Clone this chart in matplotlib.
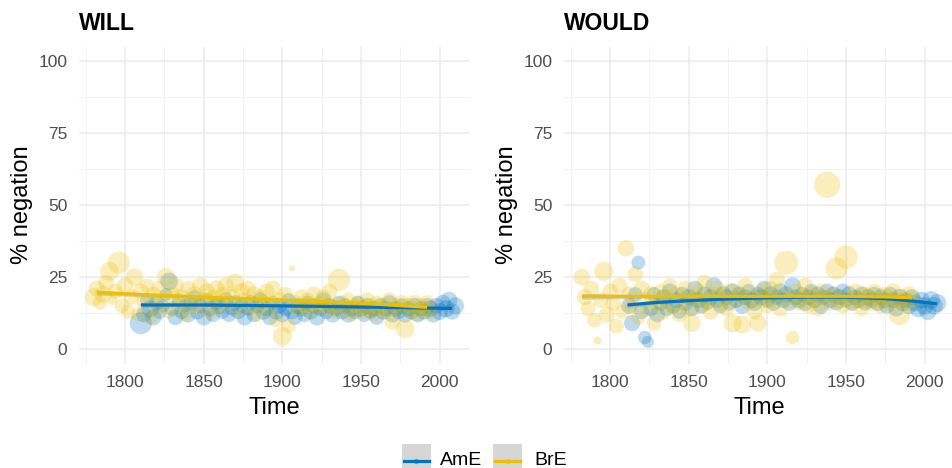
import numpy as np
import matplotlib
matplotlib.use("Agg")
import matplotlib.pyplot as plt
from matplotlib.patches import Rectangle
from matplotlib.lines import Line2D

plt.rcParams['font.family'] = ['Liberation Sans', 'DejaVu Sans']

# colours (jco palette)
BLUE = "#0073C2"
YELLOW = "#EFC000"

# ---------------- data: WILL ----------------
will_ame_year = [1810, 1812, 1814, 1816, 1818, 1820, 1822, 1824, 1826, 1828,
                 1830, 1832, 1834, 1836, 1838, 1840, 1842, 1844, 1846, 1848,
                 1850, 1852, 1854, 1856, 1858, 1860, 1862, 1864, 1866, 1868,
                 1870, 1872, 1874, 1876, 1878, 1880, 1882, 1884, 1886, 1888,
                 1890, 1892, 1894, 1896, 1898, 1900, 1902, 1904, 1906, 1908,
                 1910, 1912, 1914, 1916, 1918, 1920, 1922, 1924, 1926, 1928,
                 1930, 1932, 1934, 1936, 1938, 1940, 1942, 1944, 1946, 1948,
                 1950, 1952, 1954, 1956, 1958, 1960, 1962, 1964, 1966, 1968,
                 1970, 1972, 1974, 1976, 1978, 1980, 1982, 1984, 1986, 1988,
                 1990, 1992, 1994, 1996, 1998, 2000, 2002, 2004, 2006, 2008,
                 2010]
will_ame_neg = [9, 12, 17, 14, 11, 16, 13, 15, 19, 23.5,
                14, 11, 17, 13, 15, 12, 16, 18, 13, 15,
                11, 17, 14, 12, 16, 15, 13, 17, 12, 14,
                16, 13, 15, 11, 14, 16, 12, 15, 17, 13,
                14, 11, 16, 13, 15, 12, 14, 17, 13, 11,
                15, 14, 12, 16, 13, 15, 11, 14, 17, 13,
                15, 12, 14, 16, 13, 15, 12, 14, 13, 16,
                14, 12, 15, 13, 14, 11, 15, 13, 14, 16,
                12, 14, 13, 15, 12, 14, 13, 15, 12, 14,
                13, 15, 14, 12, 15, 13, 16, 14, 17, 13,
                15]
will_ame_n = [300, 150, 120, 180, 160, 140, 130, 110, 100, 190,
              130, 150, 120, 140, 110, 160, 130, 120, 150, 140,
              160, 130, 150, 140, 120, 160, 130, 150, 140, 120,
              150, 140, 130, 160, 120, 150, 140, 130, 150, 160,
              140, 150, 130, 160, 140, 150, 130, 120, 150, 140,
              160, 150, 140, 130, 150, 140, 160, 130, 150, 140,
              150, 160, 140, 130, 150, 140, 160, 150, 140, 130,
              150, 140, 160, 130, 150, 140, 150, 160, 140, 150,
              160, 150, 140, 150, 160, 140, 150, 160, 150, 140,
              160, 150, 170, 160, 150, 170, 160, 180, 170, 160,
              180]

will_bre_year = [1780, 1782, 1784, 1786, 1788, 1790, 1792, 1794, 1796, 1798,
                 1800, 1802, 1804, 1806, 1808, 1810, 1812, 1814, 1816, 1818,
                 1820, 1822, 1824, 1826, 1828, 1830, 1832, 1834, 1836, 1838,
                 1840, 1842, 1844, 1846, 1848, 1850, 1852, 1854, 1856, 1858,
                 1860, 1862, 1864, 1866, 1868, 1870, 1872, 1874, 1876, 1878,
                 1880, 1882, 1884, 1886, 1888, 1890, 1892, 1894, 1896, 1898,
                 1900, 1902, 1904, 1906, 1908, 1910, 1912, 1914, 1916, 1918,
                 1920, 1922, 1924, 1926, 1928, 1930, 1932, 1934, 1936, 1938,
                 1940, 1942, 1944, 1946, 1948, 1950, 1952, 1954, 1956, 1958,
                 1960, 1962, 1964, 1966, 1968, 1970, 1972, 1974, 1976, 1978,
                 1980, 1982, 1984, 1986, 1988, 1990, 1992, 1994]
will_bre_neg = [18, 21, 16, 19, 23, 27, 17, 20, 30, 15,
                22, 13, 18, 25, 12, 20, 16, 22, 11, 19,
                14, 21, 17, 25, 13, 19, 22, 15, 18, 12,
                21, 16, 19, 14, 22, 17, 20, 13, 18, 21,
                15, 19, 22, 16, 18, 23, 14, 20, 17, 21,
                15, 19, 12, 18, 16, 20, 14, 21, 10, 17,
                4.5, 19, 8, 28, 16, 14, 18, 15, 17, 13,
                19, 15, 16, 18, 14, 20, 15, 13, 24, 16,
                14, 17, 12, 15, 16, 14, 13, 17, 15, 12,
                16, 14, 15, 13, 17, 9.5, 15, 14, 16, 7,
                15, 13, 16, 12, 15, 14, 16, 13]
will_bre_n = [200, 160, 120, 180, 150, 220, 60, 140, 300, 130,
              170, 120, 150, 190, 110, 160, 140, 130, 120, 150,
              130, 160, 140, 200, 120, 150, 170, 140, 160, 120,
              150, 140, 160, 130, 170, 150, 160, 140, 150, 170,
              160, 150, 170, 140, 160, 200, 150, 170, 150, 160,
              150, 160, 130, 150, 160, 150, 140, 160, 120, 150,
              220, 140, 130, 20, 150, 140, 150, 130, 140, 120,
              150, 140, 130, 150, 140, 160, 130, 120, 300, 140,
              130, 140, 120, 130, 140, 130, 120, 150, 140, 130,
              140, 130, 150, 140, 150, 150, 140, 150, 160, 220,
              150, 140, 160, 130, 150, 140, 150, 140]

# smooth fits
will_ame_fit_x = [1810, 1850, 1900, 1950, 2008]
will_ame_fit_y = [15.3, 15.3, 15.0, 14.6, 14.1]
will_ame_fit_se = [0.9, 0.4, 0.3, 0.3, 0.6]
will_bre_fit_x = [1782, 1850, 1900, 1950, 1992]
will_bre_fit_y = [19.6, 18.0, 17.0, 15.9, 14.5]
will_bre_fit_se = [0.9, 0.4, 0.3, 0.4, 0.7]

# ---------------- data: WOULD ----------------
would_ame_year = [1812, 1814, 1816, 1818, 1820, 1822, 1824, 1826, 1828, 1830,
                  1832, 1834, 1836, 1838, 1840, 1842, 1844, 1846, 1848, 1850,
                  1852, 1854, 1856, 1858, 1860, 1862, 1864, 1866, 1868, 1870,
                  1872, 1874, 1876, 1878, 1880, 1882, 1884, 1886, 1888, 1890,
                  1892, 1894, 1896, 1898, 1900, 1902, 1904, 1906, 1908, 1910,
                  1912, 1914, 1916, 1918, 1920, 1922, 1924, 1926, 1928, 1930,
                  1932, 1934, 1936, 1938, 1940, 1942, 1944, 1946, 1948, 1950,
                  1952, 1954, 1956, 1958, 1960, 1962, 1964, 1966, 1968, 1970,
                  1972, 1974, 1976, 1978, 1980, 1982, 1984, 1986, 1988, 1990,
                  1992, 1994, 1996, 1998, 2000, 2002, 2004, 2006, 2008]
would_ame_neg = [15, 9, 19, 30, 13, 4, 2.5, 14, 19, 12,
                 16, 18, 14, 20, 15, 17, 13, 19, 16, 18,
                 14, 21, 17, 15, 19, 16, 18, 22, 17, 15,
                 19, 18, 16, 20, 17, 19, 15, 18, 20, 17,
                 16, 19, 18, 21, 17, 19, 16, 18, 20, 17,
                 19, 16, 22, 18, 17, 19, 16, 18, 20, 17,
                 19, 15, 18, 20, 17, 19, 16, 18, 20, 17,
                 19, 16, 18, 17, 19, 16, 18, 17, 19, 16,
                 18, 17, 15, 19, 17, 14, 18, 16, 17, 15,
                 18, 16, 14, 17, 15, 13, 17, 15, 16]
would_ame_n = [150, 160, 130, 120, 140, 110, 90, 140, 130, 150,
               140, 150, 130, 160, 140, 150, 130, 140, 150, 160,
               140, 150, 160, 140, 150, 130, 160, 170, 150, 140,
               160, 150, 140, 160, 150, 140, 160, 150, 140, 160,
               150, 140, 160, 150, 140, 160, 150, 140, 160, 150,
               160, 150, 170, 150, 160, 140, 160, 150, 140, 160,
               150, 160, 140, 150, 160, 150, 140, 160, 150, 140,
               160, 150, 140, 160, 150, 140, 160, 150, 140, 160,
               150, 160, 150, 140, 160, 150, 170, 160, 150, 170,
               160, 170, 180, 170, 190, 180, 200, 190, 200]

would_bre_year = [1782, 1784, 1786, 1788, 1790, 1792, 1794, 1796, 1798, 1800,
                  1802, 1804, 1806, 1808, 1810, 1812, 1814, 1816, 1818, 1820,
                  1822, 1824, 1826, 1828, 1830, 1832, 1834, 1836, 1838, 1840,
                  1842, 1844, 1846, 1848, 1850, 1852, 1854, 1856, 1858, 1860,
                  1862, 1864, 1866, 1868, 1870, 1872, 1874, 1876, 1878, 1880,
                  1882, 1884, 1886, 1888, 1890, 1892, 1894, 1896, 1898, 1900,
                  1902, 1904, 1906, 1908, 1910, 1912, 1914, 1916, 1918, 1920,
                  1922, 1924, 1926, 1928, 1930, 1932, 1934, 1936, 1938, 1940,
                  1942, 1944, 1946, 1948, 1950, 1952, 1954, 1956, 1958, 1960,
                  1962, 1964, 1966, 1968, 1970, 1972, 1974, 1976, 1978, 1980,
                  1982, 1984, 1986, 1988, 1990, 1992]
would_bre_neg = [25, 18, 14, 21, 10, 3, 17, 27, 12, 20,
                 16, 8, 22, 13, 35, 19, 15, 26, 11, 21,
                 17, 14, 19, 9, 16, 20, 13, 18, 22, 15,
                 19, 12, 17, 21, 14, 9, 18, 20, 15, 23,
                 17, 13, 19, 21, 16, 18, 14, 20, 9, 17,
                 19, 8.5, 22, 16, 18, 13, 9, 20, 17, 15,
                 21, 18, 24, 14, 19, 30, 17, 4, 20, 16,
                 18, 22, 15, 19, 17, 14, 20, 18, 57, 16,
                 19, 28, 17, 15, 32, 18, 16, 20, 17, 14,
                 19, 18, 16, 20, 17, 15, 19, 18, 16, 20,
                 17, 12, 18, 16, 19, 17]
would_bre_n = [170, 160, 140, 150, 130, 40, 150, 220, 160, 150,
               150, 140, 160, 130, 170, 150, 140, 150, 130, 160,
               150, 140, 160, 130, 150, 140, 150, 160, 140, 150,
               160, 140, 150, 160, 140, 190, 150, 140, 160, 150,
               150, 160, 140, 150, 160, 150, 140, 160, 200, 150,
               160, 190, 150, 140, 160, 150, 180, 150, 160, 140,
               150, 140, 160, 150, 140, 350, 150, 110, 150, 140,
               150, 160, 140, 150, 160, 140, 150, 160, 420, 150,
               140, 300, 150, 140, 330, 150, 140, 160, 150, 140,
               150, 160, 140, 150, 160, 150, 140, 160, 150, 160,
               150, 280, 160, 150, 160, 150]

would_ame_fit_x = [1811, 1830, 1850, 1870, 1900, 1925, 1950, 1975, 1990, 2008]
would_ame_fit_y = [15.3, 16.2, 16.8, 17.3, 17.8, 18.0, 18.0, 17.5, 16.8, 15.7]
would_ame_fit_se = [1.0, 0.6, 0.4, 0.3, 0.3, 0.3, 0.3, 0.3, 0.4, 0.7]
would_bre_fit_x = [1782, 1850, 1900, 1950, 1975, 1992]
would_bre_fit_y = [18.3, 18.3, 18.3, 18.3, 18.1, 17.8]
would_bre_fit_se = [1.0, 0.4, 0.3, 0.3, 0.4, 0.7]

size_scale = 0.85   # token count -> marker area

# ---------------- figure ----------------
W, H = 952, 468
fig = plt.figure(figsize=(W / 100, H / 100), dpi=100)


def add_px_axes(x0, y0, x1, y1):
    return fig.add_axes([x0 / W, 1 - y1 / H, (x1 - x0) / W, (y1 - y0) / H])


panels = [
    ("WILL", add_px_axes(79, 46.5, 470, 363.5),
     (will_ame_year, will_ame_neg, will_ame_n, will_ame_fit_x, will_ame_fit_y, will_ame_fit_se),
     (will_bre_year, will_bre_neg, will_bre_n, will_bre_fit_x, will_bre_fit_y, will_bre_fit_se)),
    ("WOULD", add_px_axes(564, 46.5, 955, 363.5),
     (would_ame_year, would_ame_neg, would_ame_n, would_ame_fit_x, would_ame_fit_y, would_ame_fit_se),
     (would_bre_year, would_bre_neg, would_bre_n, would_bre_fit_x, would_bre_fit_y, would_bre_fit_se)),
]

for title, ax, ame, bre in panels:
    # points
    for (yr, neg, n, fx, fy, fse), col in [(ame, BLUE), (bre, YELLOW)]:
        ax.scatter(yr, neg, s=np.array(n) * size_scale, color=col, alpha=0.26,
                   linewidths=0, zorder=2)
    # smooth lines with thin se band
    for (yr, neg, n, fx, fy, fse), col in [(ame, BLUE), (bre, YELLOW)]:
        fy = np.array(fy)
        fse = np.array(fse)
        ax.fill_between(fx, fy - fse, fy + fse, color="#999999", alpha=0.4,
                        linewidth=0, zorder=3)
        ax.plot(fx, fy, color=col, lw=2.3, solid_capstyle="butt", zorder=4)

    ax.set_xlim(1770.7, 2019.3)
    ax.set_ylim(-5, 105)
    ax.set_xticks([1800, 1850, 1900, 1950, 2000])
    ax.set_xticks([1775, 1825, 1875, 1925, 1975], minor=True)
    ax.set_yticks([0, 25, 50, 75, 100])
    ax.set_yticks([12.5, 37.5, 62.5, 87.5], minor=True)
    ax.grid(which="major", color="#EBEBEB", lw=1.1, zorder=0)
    ax.grid(which="minor", color="#F2F2F2", lw=0.7, zorder=0)
    ax.set_axisbelow(True)
    for s in ax.spines.values():
        s.set_visible(False)
    ax.tick_params(which="both", length=0, labelsize=12.5, labelcolor="#4D4D4D", pad=8.5)

    ax.set_xlabel("Time", fontsize=17, labelpad=5)
    ax.set_ylabel("% negation", fontsize=17, labelpad=4)
    ax.set_title(title, loc="left", fontsize=16.5, fontweight="bold", pad=12)

# legend at the bottom (drawn by hand, ggplot style keys)
LEG_Y = 460.5
for kx, tx, col, lab in [(401.5, 440, BLUE, "AmE"), (493, 534, YELLOW, "BrE")]:
    fig.add_artist(Rectangle((kx / W, 1 - 476 / H), 29 / W, 32 / H,
                             transform=fig.transFigure, color="#D6D6D6", lw=0))
    fig.add_artist(Line2D([(kx + 2) / W, (kx + 27) / W], [1 - LEG_Y / H] * 2,
                          transform=fig.transFigure, color=col, lw=2.3))
    fig.add_artist(Line2D([(kx + 14.5) / W], [1 - LEG_Y / H], marker="o", ms=3,
                          transform=fig.transFigure, color=col, alpha=0.4, lw=0))
    fig.text(tx / W, 1 - LEG_Y / H, lab, fontsize=14, va="center", ha="left")

fig.savefig("out.png", dpi=100)
